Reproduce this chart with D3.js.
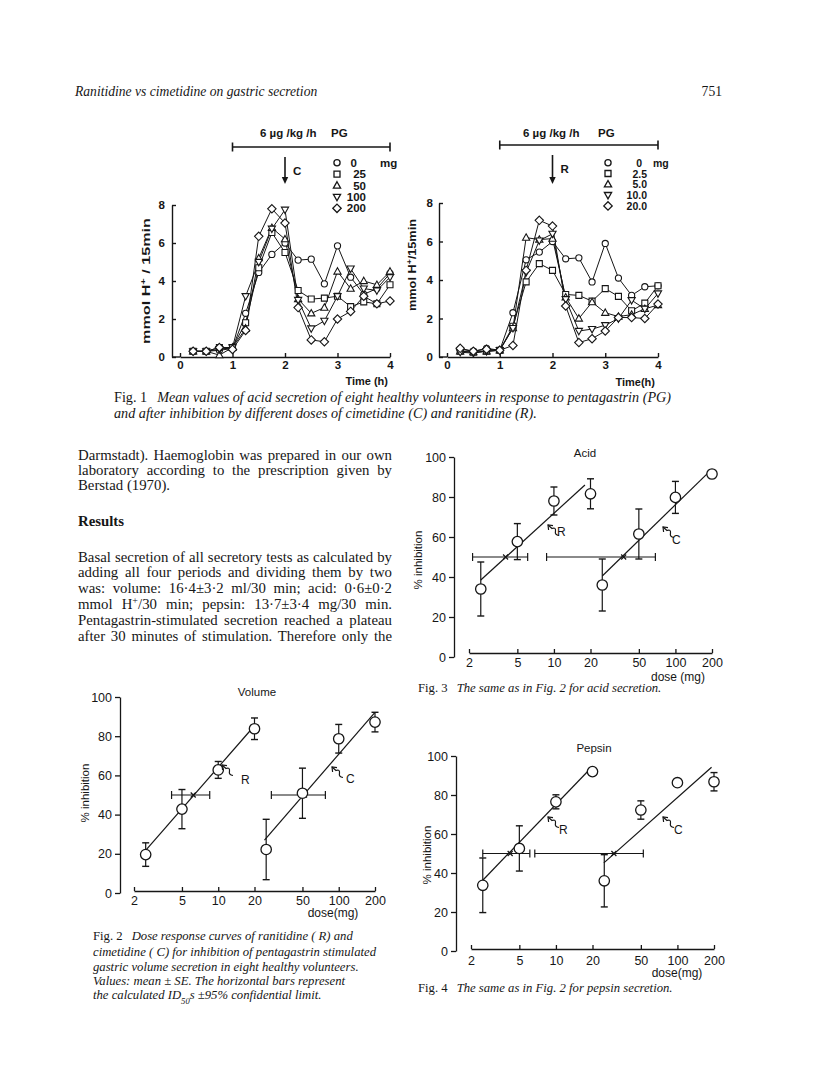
<!DOCTYPE html>
<html><head><meta charset="utf-8">
<script src="https://cdn.jsdelivr.net/npm/d3@7"></script>
<style>body{margin:0;background:#fff}svg{display:block}</style>
</head><body><svg id="page" width="816" height="1086"></svg>
<script>
// ---------------- Fig. 1 data (mmol H+ / 15 min) ----------------
const time = [0.25,0.5,0.75,1,1.25,1.5,1.75,2,2.25,2.5,2.75,3,3.25,3.5,3.75,4];
const timeTicks = [0,1,2,3,4];
const acidTicks = [0,2,4,6,8];
const cimLabels = ["0","25","50","100","200"];
const cim0   = [0.30,0.30,0.35,0.45,2.30,4.45,5.40,6.00,5.10,5.15,3.85,5.85,4.20,3.30,3.60,4.40];
const cim25  = [0.30,0.30,0.50,0.50,1.80,4.70,6.55,5.50,3.50,3.05,3.10,3.20,2.65,2.90,2.80,3.80];
const cim50  = [0.30,0.30,0.10,0.50,1.50,5.20,6.80,6.20,3.05,2.30,2.60,4.50,3.60,4.00,3.80,4.50];
const cim100 = [0.30,0.30,0.40,0.50,3.20,5.00,6.75,7.75,3.00,1.50,1.90,3.20,4.65,3.60,3.50,4.20];
const cim200 = [0.30,0.30,0.50,0.40,1.40,6.35,7.80,7.05,2.60,0.90,0.80,2.00,2.40,3.20,2.80,2.95];
const ranLabels = ["0","2.5","5.0","10.0","20.0"];
const ran0   = [0.40,0.30,0.45,0.35,2.30,5.05,5.45,6.00,5.10,5.15,3.90,5.90,4.10,3.20,3.65,3.70];
const ran25  = [0.30,0.25,0.30,0.35,1.60,3.90,4.85,4.50,3.25,3.20,2.90,3.55,3.15,2.40,2.80,3.70];
const ran5   = [0.30,0.25,0.30,0.35,1.50,6.20,6.10,6.15,3.10,2.00,2.85,2.30,2.10,2.20,2.50,2.70];
const ran10  = [0.25,0.20,0.30,0.35,1.50,4.40,6.05,6.40,3.00,1.35,1.45,1.65,2.00,2.95,2.50,3.30];
const ran20  = [0.45,0.30,0.40,0.35,0.60,4.50,7.10,6.80,2.65,0.75,0.95,1.35,2.05,2.05,2.00,2.75];
const markerTypes = ["circle","square","triUp","triDown","diamond"];

// ---------------- Figs. 2-4 data (% inhibition) ----------------
const doseTicks = [2,5,10,20,50,100,200];
const inhTicks = [0,20,40,60,80,100];
const doseR = [2.5,5,10,20];
const doseC = [25,50,100,200];
// Volume (Fig. 2)
const volR = [19.6,42.8,62.8,83.8], volRse = [6,10,4.3,5.5];
const volC = [22.2,50.9,78.7,87.2], volCse = [15.4,12.8,7.3,5];
const volFitR = [[2.5,21.8],[18.7,83.3]], volFitC = [[24.2,27],[200,92.2]];
const volIdR = [4.1,6.2,8.5], volIdC = [27.6,52,77.5];
// Acid (Fig. 3)
const acidR = [34,57.7,78,81.6], acidRse = [13.5,9,7,7.5];
const acidC = [36,61.5,79.8,91.5], acidCse = [13,12.5,8,1.5];
const acidFitR = [[2.5,38.5],[18,86]], acidFitC = [[25,40.5],[195,93.3]];
const acidIdR = [2.14,4.0,6.08], acidIdC = [8.7,37.5,68.4];
// Pepsin (Fig. 4)
const pepR = [33.7,52.6,76.5,92], pepRse = [14,11.6,3.6,1.5];
const pepC = [36,72.3,86.3,86.8], pepCse = [13.4,4.7,1.5,4.7];
const pepFitR = [[2.5,36.3],[19,93.2]], pepFitC = [[24.8,45.2],[191,94.2]];
const pepIdR = [2.5,4.2,6.1], pepIdC = [6.7,30,52.4];

// ---------------- helpers ----------------
const svg = d3.select('#page');
svg.append('rect').attr('width',816).attr('height',1086).attr('fill','#fff');
const SERIF = "'Liberation Serif','Times New Roman',serif";
const SANS = "'Liberation Sans',Arial,Helvetica,sans-serif";
const INK = '#161616';

function addText(parent, x, y, segs, o = {}) {
  const fs = o.size || 14;
  const t = parent.append('text').attr('x', x).attr('y', y)
    .attr('font-family', o.family || SERIF).attr('font-size', fs)
    .attr('text-anchor', o.anchor || 'start').attr('fill', INK);
  if (o.weight) t.attr('font-weight', o.weight);
  if (o.style) t.attr('font-style', o.style);
  if (typeof segs === 'string') segs = [{t: segs}];
  segs.forEach(s => {
    const ts = t.append('tspan').text(s.t);
    if (s.style) ts.attr('font-style', s.style);
    if (s.dx) ts.attr('dx', s.dx);
    if (s.sup) ts.attr('baseline-shift', 'super').attr('font-size', fs * 0.68);
    if (s.sub) ts.attr('baseline-shift', 'sub').attr('font-size', fs * 0.68);
  });
  if (o.justify) {
    const n = t.node().getComputedTextLength();
    const gaps = (t.text().match(/ /g) || []).length;
    if (gaps) t.attr('word-spacing', ((o.justify - n) / gaps).toFixed(2));
  }
  if (o.len) t.attr('textLength', o.len).attr('lengthAdjust', 'spacingAndGlyphs');
  if (o.rotate) t.attr('transform', `rotate(${o.rotate},${x},${y})`);
  return t;
}

function markerPath(type) {
  switch (type) {
    case 'circle': return d3.symbol().type(d3.symbolCircle).size(30)();
    case 'square': return 'M-3,-3H3V3H-3Z';
    case 'triUp': return 'M0,-3.8L3.6,2.6H-3.6Z';
    case 'triDown': return 'M0,3.8L3.6,-2.6H-3.6Z';
    case 'diamond': return 'M0,-4.2L4.2,0L0,4.2L-4.2,0Z';
  }
}

function styleAxis(g, size, weight, sw) {
  g.attr('font-family', SANS).attr('font-size', size).attr('font-weight', weight || 'normal');
  g.selectAll('path,line').attr('stroke', INK).attr('stroke-width', sw || 1.2);
  g.selectAll('text').attr('fill', INK);
}

// ---------------- Fig. 1 panels ----------------
function timeCourse(o, series, labels, drug) {
  const g = svg.append('g');
  const x = d3.scaleLinear().domain([0,4]).range([o.x0, o.x4]);
  const y = d3.scaleLinear().domain([0,8]).range([o.yBase, o.y8]);
  const ya = g.append('g').attr('transform', `translate(${o.axisX},0)`)
    .call(d3.axisLeft(y).tickValues(acidTicks).tickSize(-4).tickSizeOuter(0).tickPadding(o.yPad).tickFormat(d3.format('d')));
  styleAxis(ya, 11.5, 'bold', 1.4);
  const xa = g.append('g').attr('transform', `translate(0,${o.yBase})`)
    .call(d3.axisBottom(x).tickValues(timeTicks).tickSize(-4).tickSizeOuter(0).tickPadding(4).tickFormat(d3.format('d')));
  styleAxis(xa, 11.5, 'bold', 1.4);
  g.append('line').attr('x1', o.axisX).attr('x2', x(0)).attr('y1', o.yBase).attr('y2', o.yBase)
    .attr('stroke', INK).attr('stroke-width', 1.4);
  addText(g, o.ylabX, o.ylabY, [{t: 'mmol H'}, {t: '+', sup: true}, {t: o.ylabTail}],
    {family: SANS, size: 11, weight: 'bold', anchor: 'middle', rotate: -90, len: o.ylabLen});
  addText(g, o.timeX, o.timeY, o.timeText, {family: SANS, size: 11, weight: 'bold', anchor: 'end'});
  // PG infusion bar
  g.append('line').attr('x1', x(1)).attr('x2', x(4)).attr('y1', o.barY).attr('y2', o.barY).attr('stroke', INK).attr('stroke-width', 1.6);
  [1,4].forEach(t => g.append('line').attr('x1', x(t)).attr('x2', x(t)).attr('y1', o.barY - 4.5).attr('y2', o.barY + 4.5).attr('stroke', INK).attr('stroke-width', 1.6));
  addText(g, o.titleX, o.titleY, '6 µg /kg /h', {family: SANS, size: 11.5, weight: 'bold'});
  addText(g, o.pgX, o.titleY, 'PG', {family: SANS, size: 11.5, weight: 'bold'});
  // drug arrow
  g.append('line').attr('x1', x(2)).attr('x2', x(2)).attr('y1', o.arrowTop).attr('y2', o.arrowBot - 5).attr('stroke', INK).attr('stroke-width', 1.6);
  g.append('path').attr('d', `M${x(2)-3.2},${o.arrowBot-7}L${x(2)+3.2},${o.arrowBot-7}L${x(2)},${o.arrowBot}Z`).attr('fill', INK);
  addText(g, x(2) + 8, o.arrowTop + 18, drug, {family: SANS, size: 11.5, weight: 'bold'});
  // legend
  labels.forEach((lab, i) => {
    const ly = o.legY + i * o.legStep;
    g.append('path').attr('d', markerPath(markerTypes[i])).attr('transform', `translate(${o.legX},${ly})`)
      .attr('fill', '#fff').attr('stroke', INK).attr('stroke-width', 1.3);
    addText(g, i === 0 ? o.legZeroX : o.legLabX, ly + 4, lab, {family: SANS, size: o.legSize, weight: 'bold', anchor: 'end'});
  });
  addText(g, o.mgX, o.legY + 4, 'mg', {family: SANS, size: o.legSize, weight: 'bold'});
  // lines then markers
  const line = d3.line().x((d, i) => x(time[i])).y(d => y(d));
  series.forEach(s => g.append('path').attr('d', line(s)).attr('fill', 'none').attr('stroke', INK).attr('stroke-width', 1));
  series.forEach((s, k) => {
    g.selectAll(null).data(s).join('path').attr('d', markerPath(markerTypes[k]))
      .attr('transform', (d, i) => `translate(${x(time[i])},${y(d)})`)
      .attr('fill', '#fff').attr('stroke', INK).attr('stroke-width', 1.1);
  });
}

timeCourse({x0:180, x4:390, axisX:172, yBase:357, y8:205, yPad:7, ylabX:150, ylabY:281, ylabTail:' / 15min', ylabLen:126,
  timeX:388, timeY:385, timeText:'Time (h)', barY:147, titleX:260, pgX:331, titleY:137, arrowTop:157, arrowBot:184,
  legX:337, legY:162.7, legStep:11.4, legZeroX:357, legLabX:366, mgX:380, legSize:11.5},
  [cim0, cim25, cim50, cim100, cim200], cimLabels, 'C');
timeCourse({x0:447, x4:658, axisX:439, yBase:357, y8:203, yPad:6, ylabX:416, ylabY:265, ylabTail:'/15min', ylabLen:92,
  timeX:655, timeY:386, timeText:'Time(h)', barY:145, titleX:523, pgX:598, titleY:137, arrowTop:155, arrowBot:184,
  legX:608, legY:162.7, legStep:10.8, legZeroX:642, legLabX:647, mgX:653, legSize:10.5},
  [ran0, ran25, ran5, ran10, ran20], ranLabels, 'R');

// ---------------- dose-response panels ----------------
function squiggle(g, tx, ty) {
  g.append('path').attr('d', `M${tx+5},${ty+0.6}L${tx},${ty}L${tx+0.6},${ty+5}`).attr('fill', 'none').attr('stroke', INK).attr('stroke-width', 1.2);
  g.append('path').attr('d', `M${tx},${ty}L${tx+4},${ty+3.5}Q${tx+8},${ty+2} ${tx+7.5},${ty+6}Q${tx+6.5},${ty+10} ${tx+11},${ty+10.5}`)
    .attr('fill', 'none').attr('stroke', INK).attr('stroke-width', 1.2);
}

function doseResp(o, R, Rse, C, Cse, fitR, fitC, idR, idC) {
  const g = svg.append('g');
  const x = d3.scaleLog().domain([2,200]).range([o.x2, o.x200]);
  const y = d3.scaleLinear().domain([0,100]).range([o.y0, o.y100]);
  const ya = g.append('g').attr('transform', `translate(${o.axisX},0)`)
    .call(d3.axisLeft(y).tickValues(inhTicks).tickSize(5).tickSizeOuter(0).tickPadding(3).tickFormat(d3.format('d')));
  styleAxis(ya, 12.5, 'normal', 1.3);
  const xa = g.append('g').attr('transform', `translate(0,${o.xAxisY})`)
    .call(d3.axisBottom(x).tickValues(doseTicks).tickSize(-4).tickSizeOuter(0).tickPadding(o.xPad).tickFormat(d3.format('d')));
  styleAxis(xa, 12.5, 'normal', 1.3);
  addText(g, o.titleX, o.titleY, o.title, {family: SANS, size: 11.5, anchor: 'middle'});
  addText(g, o.doseX, o.doseY, o.doseText, {family: SANS, size: 12, anchor: 'middle'});
  addText(g, o.ylabX, o.ylabY, '% inhibition', {family: SANS, size: 11.5, anchor: 'middle', rotate: -90});
  // regression lines
  [fitR, fitC].forEach(f => g.append('line').attr('x1', x(f[0][0])).attr('y1', y(f[0][1])).attr('x2', x(f[1][0])).attr('y2', y(f[1][1]))
    .attr('stroke', INK).attr('stroke-width', 1.2));
  // ID50 bars at 50 %
  [idR, idC].forEach(b => {
    const yy = y(50);
    g.append('line').attr('x1', x(b[0])).attr('x2', x(b[2])).attr('y1', yy).attr('y2', yy).attr('stroke', INK).attr('stroke-width', 1.1);
    [b[0], b[2]].forEach(v => g.append('line').attr('x1', x(v)).attr('x2', x(v)).attr('y1', yy - 4).attr('y2', yy + 4).attr('stroke', INK).attr('stroke-width', 1.2));
    const sx = x(b[1]);
    g.append('path').attr('d', `M${sx-2.5},${yy-2.5}L${sx+2.5},${yy+2.5}M${sx-2.5},${yy+2.5}L${sx+2.5},${yy-2.5}`).attr('stroke', INK).attr('stroke-width', 1.2);
  });
  // error bars + points
  const pts = doseR.map((d, i) => ({d, v: R[i], se: Rse[i]})).concat(doseC.map((d, i) => ({d, v: C[i], se: Cse[i]})));
  pts.forEach(p => {
    const cx = x(p.d), y1 = y(p.v + p.se), y2 = y(p.v - p.se);
    g.append('line').attr('x1', cx).attr('x2', cx).attr('y1', y1).attr('y2', y2).attr('stroke', INK).attr('stroke-width', 1.2);
    [y1, y2].forEach(yy => g.append('line').attr('x1', cx - 3.5).attr('x2', cx + 3.5).attr('y1', yy).attr('y2', yy).attr('stroke', INK).attr('stroke-width', 1.4));
  });
  g.selectAll(null).data(pts).join('circle').attr('cx', p => x(p.d)).attr('cy', p => y(p.v)).attr('r', 5.2)
    .attr('fill', '#fff').attr('stroke', INK).attr('stroke-width', 1.3);
  squiggle(g, o.rTip[0], o.rTip[1]);
  addText(g, o.rLab[0], o.rLab[1], 'R', {family: SANS, size: 12});
  squiggle(g, o.cTip[0], o.cTip[1]);
  addText(g, o.cLab[0], o.cLab[1], 'C', {family: SANS, size: 12});
}

doseResp({x2:134, x200:375, axisX:120, y0:893, y100:697, xAxisY:891, xPad:5, title:'Volume', titleX:257, titleY:696,
  doseX:333, doseY:917, doseText:'dose(mg)', ylabX:89, ylabY:793, rTip:[222,765], rLab:[241,784], cTip:[332,767], cLab:[346,783]},
  volR, volRse, volC, volCse, volFitR, volFitC, volIdR, volIdC);
doseResp({x2:469, x200:712, axisX:454, y0:657, y100:457, xAxisY:653, xPad:5, title:'Acid', titleX:585, titleY:457,
  doseX:678, doseY:681, doseText:'dose (mg)', ylabX:422, ylabY:560, rTip:[548,525], rLab:[557,536], cTip:[663,527], cLab:[672,544]},
  acidR, acidRse, acidC, acidCse, acidFitR, acidFitC, acidIdR, acidIdC);
doseResp({x2:471, x200:714, axisX:456, y0:951, y100:756, xAxisY:949, xPad:7, title:'Pepsin', titleX:594, titleY:752,
  doseX:677, doseY:977, doseText:'dose(mg)', ylabX:431, ylabY:855, rTip:[548,817], rLab:[559,834], cTip:[663,817], cLab:[674,834]},
  pepR, pepRse, pepC, pepCse, pepFitR, pepFitC, pepIdR, pepIdC);

// ---------------- page text ----------------
const T = svg.append('g');
addText(T, 75, 96, 'Ranitidine vs cimetidine on gastric secretion', {size: 13.6, style: 'italic'});
addText(T, 722, 96, '751', {size: 13.6, anchor: 'end'});

const CAP = 12.7, CAP1 = 14.2;
addText(T, 114, 401.5, [{t: 'Fig. 1'}, {t: 'Mean values of acid secretion of eight healthy volunteers in response to pentagastrin (PG)', style: 'italic', dx: 10}], {size: CAP1});
addText(T, 114, 418, 'and after inhibition by different doses of cimetidine (C) and ranitidine (R).', {size: CAP1, style: 'italic'});

const bodyX = 78, bodyW = 314;
const body = [
  {y: 459.5, segs: [{t: 'Darmstadt). Haemoglobin was prepared in our own'}], j: true},
  {y: 474.5, segs: [{t: 'laboratory according to the prescription given by'}], j: true},
  {y: 489.5, segs: [{t: 'Berstad (1970).'}], j: false},
  {y: 562, segs: [{t: 'Basal secretion of all secretory tests as calculated by'}], j: true},
  {y: 577, segs: [{t: 'adding all four periods and dividing them by two'}], j: true},
  {y: 593, segs: [{t: 'was: volume: 16·4±3·2 ml/30 min; acid: 0·6±0·2'}], j: true},
  {y: 608.5, segs: [{t: 'mmol H'}, {t: '+', sup: true}, {t: '/30 min; pepsin: 13·7±3·4 mg/30 min.'}], j: true},
  {y: 625, segs: [{t: 'Pentagastrin-stimulated secretion reached a plateau'}], j: true},
  {y: 641, segs: [{t: 'after 30 minutes of stimulation. Therefore only the'}], j: true}
];
body.forEach(l => addText(T, bodyX, l.y, l.segs, {size: 14.8, justify: l.j ? bodyW : null}));
addText(T, bodyX, 526, 'Results', {size: 14.8, weight: 'bold'});

addText(T, 93, 940, [{t: 'Fig. 2'}, {t: 'Dose response curves of ranitidine ( R) and', style: 'italic', dx: 9}], {size: CAP});
addText(T, 93, 956, 'cimetidine ( C) for inhibition of pentagastrin stimulated', {size: CAP, style: 'italic'});
addText(T, 93, 971, 'gastric volume secretion in eight healthy volunteers.', {size: CAP, style: 'italic'});
addText(T, 93, 985, 'Values: mean ± SE. The horizontal bars represent', {size: CAP, style: 'italic'});
addText(T, 93, 999, [{t: 'the calculated ID'}, {t: '50', sub: true}, {t: 's ±95% confidential limit.'}], {size: CAP, style: 'italic'});

addText(T, 418, 692, [{t: 'Fig. 3'}, {t: 'The same as in Fig. 2 for acid secretion.', style: 'italic', dx: 9}], {size: CAP});
addText(T, 418, 992, [{t: 'Fig. 4'}, {t: 'The same as in Fig. 2 for pepsin secretion.', style: 'italic', dx: 9}], {size: CAP});
</script></body></html>
